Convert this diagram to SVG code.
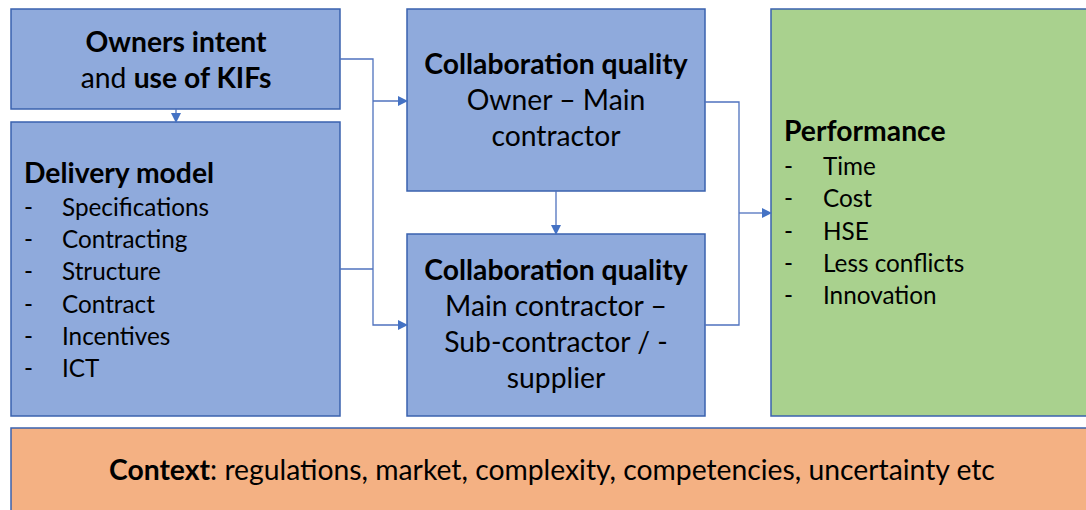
<svg xmlns="http://www.w3.org/2000/svg" width="1086" height="510" viewBox="0 0 1086 510">
<defs>
<style>
.blue{fill:#8FAADC;stroke:#3A62AE;stroke-width:1.5}
.green{fill:#A9D18E;stroke:#3A62AE;stroke-width:1.5}
.orange{fill:#F4B183;stroke:#3A62AE;stroke-width:1.5}
text{font-family:Lato,"Liberation Sans",sans-serif;fill:#000}
.t{font-size:28.3px}
.b{font-weight:bold}
.i{font-size:24.3px}
.c{text-anchor:middle}
.conn{fill:none;stroke:#4F72BE;stroke-width:1.3}
</style>
<marker id="ah" markerWidth="10" markerHeight="10" refX="9" refY="5" orient="auto" markerUnits="userSpaceOnUse">
<path d="M0,0 L10,5 L0,10 z" fill="#4472C4"/>
</marker>
</defs>
<g id="node-owners">
<rect class="blue" x="11" y="9" width="329" height="100"/>
<text class="t c b" x="176" y="52">Owners intent</text>
<text class="t c" x="176" y="88">and <tspan class="b">use of KIFs</tspan></text>
</g>
<g id="node-delivery">
<rect class="blue" x="11" y="122" width="329" height="294"/>
<text class="t b" x="24" y="183">Delivery model</text>
<g class="i">
<text x="24" y="216">-</text><text x="62" y="216">Specifications</text>
<text x="24" y="248">-</text><text x="62" y="248">Contracting</text>
<text x="24" y="280">-</text><text x="62" y="280">Structure</text>
<text x="24" y="313">-</text><text x="62" y="313">Contract</text>
<text x="24" y="345">-</text><text x="62" y="345">Incentives</text>
<text x="24" y="377">-</text><text x="62" y="377">ICT</text>
</g>
</g>
<g id="node-collab1">
<rect class="blue" x="407" y="9" width="298" height="182"/>
<text class="t c b" x="556" y="74">Collaboration quality</text>
<text class="t c" x="556" y="110">Owner – Main</text>
<text class="t c" x="556" y="146">contractor</text>
</g>
<g id="node-collab2">
<rect class="blue" x="407" y="234" width="298" height="182"/>
<text class="t c b" x="556" y="280">Collaboration quality</text>
<text class="t c" x="556" y="316">Main contractor –</text>
<text class="t c" x="556" y="352">Sub-contractor / -</text>
<text class="t c" x="556" y="388">supplier</text>
</g>
<g id="node-performance">
<rect class="green" x="771" y="9" width="330" height="407"/>
<text class="t b" x="784" y="141">Performance</text>
<g class="i">
<text x="784" y="175">-</text><text x="823" y="175">Time</text>
<text x="784" y="207">-</text><text x="823" y="207">Cost</text>
<text x="784" y="240">-</text><text x="823" y="240">HSE</text>
<text x="784" y="272">-</text><text x="823" y="272">Less conflicts</text>
<text x="784" y="304">-</text><text x="823" y="304">Innovation</text>
</g>
</g>
<g id="node-context">
<rect class="orange" x="11" y="428" width="1090" height="100"/>
<text class="t" x="109" y="480"><tspan class="b">Context</tspan>: regulations, market, complexity, competencies, uncertainty etc</text>
</g>
<g id="connectors">
<line class="conn" x1="176" y1="109" x2="176" y2="122" marker-end="url(#ah)"/>
<polyline class="conn" points="340,59 373,59 373,325 407,325" marker-end="url(#ah)"/>
<line class="conn" x1="373" y1="101" x2="407" y2="101" marker-end="url(#ah)"/>
<line class="conn" x1="340" y1="269" x2="373" y2="269"/>
<line class="conn" x1="556" y1="191" x2="556" y2="234" marker-end="url(#ah)"/>
<polyline class="conn" points="705,102 739,102 739,325 705,325"/>
<line class="conn" x1="739" y1="213" x2="771" y2="213" marker-end="url(#ah)"/>
</g>
</svg>
